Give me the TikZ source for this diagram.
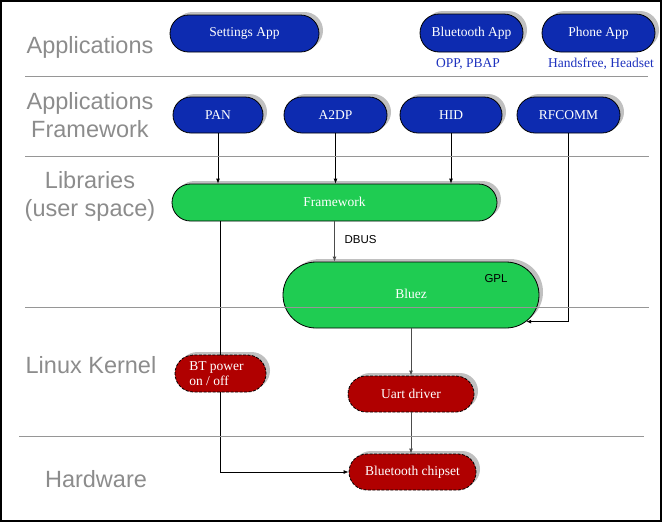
\documentclass[tikz,border=0pt]{standalone}
\usepackage{fontspec}
\setmainfont{Liberation Serif}
\newfontfamily\lsans{Liberation Sans}
\usetikzlibrary{shapes.misc,shadows,arrows.meta}
\definecolor{pillblue}{RGB}{13,43,176}
\definecolor{pillgreen}{RGB}{31,204,82}
\definecolor{pillred}{RGB}{176,0,0}
\definecolor{shadowgray}{RGB}{192,192,192}
\definecolor{labelgray}{RGB}{140,140,140}
\definecolor{sepgray}{RGB}{150,150,150}
\definecolor{noteblue}{RGB}{30,50,190}
\begin{document}
\begin{tikzpicture}[x=1pt,y=-1pt,
  pill/.style={rounded rectangle, draw=black, line width=0.8pt, inner sep=0pt,
    text=white, font=\fontsize{13.5}{15}\selectfont,
    drop shadow={shadow xshift=4pt,shadow yshift=3pt,fill=shadowgray,opacity=1}},
  bluepill/.style={pill, fill=pillblue},
  greenpill/.style={pill, fill=pillgreen},
  redpill/.style={pill, fill=pillred, dash pattern=on 3pt off 1.5pt},
  layer/.style={text=labelgray, font=\lsans\fontsize{23.5}{28}\selectfont, align=center, anchor=base},
  sep/.style={draw=sepgray, line width=1pt},
  arr/.style={draw=black, line width=0.8pt, -{Latex[length=5pt,width=4pt]}},
  garr/.style={draw=black!70, line width=0.9pt, -{Latex[length=5pt,width=4pt]}},
  note/.style={text=noteblue, font=\fontsize{13.5}{15}\selectfont},
  tag/.style={text=black, font=\lsans\fontsize{11.5}{13}\selectfont}]
\useasboundingbox (0,0) rectangle (663,523);
\draw[line width=1.2pt] (1,1) rectangle (661,521);

% layer labels (base anchor = baseline of last line)
\node[layer] (lapp) at (90,53) {Applications};
\node[layer] (lfw) at (90,137) {Applications\\Framework};
\node[layer] (llib) at (90,216) {Libraries\\(user space)};
\node[layer] (lker) at (91,373) {Linux Kernel};
\node[layer] (lhw) at (96,487) {Hardware};

% application nodes
\node[bluepill, minimum width=149pt, minimum height=37pt] (settings) at (244.5,33.5) {Settings App};
\node[bluepill, minimum width=103pt, minimum height=38pt] (btapp) at (471.5,33) {Bluetooth App};
\node[bluepill, minimum width=113pt, minimum height=38pt] (phone) at (598.5,33) {Phone App};
\node[note] (opp) at (468,64) {OPP, PBAP};
\node[note] (hf) at (601,64) {Handsfree, Headset};

% framework nodes
\node[bluepill, minimum width=90pt, minimum height=36pt] (pan) at (218,115) {PAN};
\node[bluepill, minimum width=103pt, minimum height=36pt] (a2dp) at (335.5,115) {A2DP};
\node[bluepill, minimum width=102pt, minimum height=36pt] (hid) at (451,115) {HID};
\node[bluepill, minimum width=103pt, minimum height=36pt] (rfcomm) at (568.5,115) {RFCOMM};

% libraries
\node[greenpill, minimum width=325pt, minimum height=37pt] (framework) at (334.5,202.5) {\raisebox{1.5pt}{Framework}};
\node[greenpill, minimum width=256pt, minimum height=66pt] (bluez) at (411,295) {\raisebox{3pt}{Bluez}};
\node[tag, anchor=west] (dbus) at (341,240) {DBUS};
\node[tag] (gpl) at (496,279) {GPL};

% kernel / hardware
\node[redpill, minimum width=91pt, minimum height=37pt, align=left] (btpower) at (220.5,373.5) {BT power\hspace*{8pt}\\on / off};
\node[redpill, minimum width=126pt, minimum height=36pt] (uart) at (411,394) {Uart driver};
\node[redpill, minimum width=127pt, minimum height=36pt] (chipset) at (412.5,472) {Bluetooth chipset};

% connectors
\draw[arr] (pan.south) -- (pan.south |- framework.north);
\draw[arr] (a2dp.south) -- (a2dp.south |- framework.north);
\draw[arr] (hid.south) -- (hid.south |- framework.north);
\draw[garr] (framework.south) -- (framework.south |- bluez.north);
\draw[arr] (rfcomm.south) |- (bluez.-13);
\draw[garr] (bluez.south) -- (uart.north);
\draw[garr] (uart.south) -- (uart.south |- chipset.north);
\draw[line width=0.8pt] (btpower.north |- framework.south) -- (btpower.north);
\draw[arr] (btpower.south) |- (chipset.west);

% layer separators
\draw[sep] (25,76) -- (648,76);
\draw[sep] (25,156) -- (649,156);
\draw[sep] (25,307) -- (649,307);
\draw[sep] (19,436) -- (644,436);
\end{tikzpicture}
\end{document}
